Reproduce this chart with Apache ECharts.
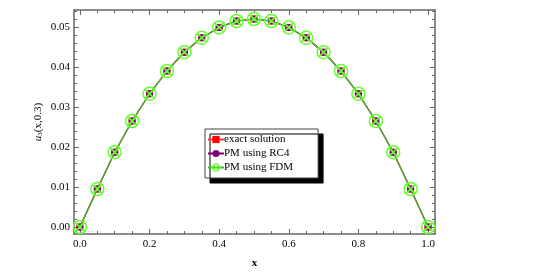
<!DOCTYPE html>
<html>
<head>
<meta charset="utf-8">
<script src="https://cdn.jsdelivr.net/npm/echarts@6.0.0/dist/echarts.min.js"></script>
<style>html,body{margin:0;padding:0;background:#fff}#c{width:541px;height:278px}</style>
</head>
<body>
<div id="c"></div>
<script>
var xs = [0,0.05,0.1,0.15,0.2,0.25,0.3,0.35,0.4,0.45,0.5,0.55,0.6,0.65,0.7,0.75,0.8,0.85,0.9,0.95,1.0];
var exactVals = [0,0.0095,0.0187,0.0265,0.0333,0.0390,0.0437,0.0473,0.0499,0.0515,0.0520,0.0515,0.0499,0.0473,0.0437,0.0390,0.0333,0.0265,0.0187,0.0095,0];
var rc4Vals   = [0,0.0095,0.0187,0.0265,0.0333,0.0390,0.0437,0.0473,0.0499,0.0515,0.0520,0.0515,0.0499,0.0473,0.0437,0.0390,0.0333,0.0265,0.0187,0.0095,0];
var fdmVals   = [0,0.0095,0.0187,0.0265,0.0333,0.0390,0.0437,0.0473,0.0499,0.0515,0.0520,0.0515,0.0499,0.0473,0.0437,0.0390,0.0333,0.0265,0.0187,0.0095,0];
var xTickLabels = [0,0.2,0.4,0.6,0.8,1.0];
var xMinorTicks = [0.05,0.1,0.15,0.25,0.3,0.35,0.45,0.5,0.55,0.65,0.7,0.75,0.85,0.9,0.95];
var yTickLabels = [0,0.01,0.02,0.03,0.04,0.05];
var yMinorTicks = [0.002,0.004,0.006,0.008,0.012,0.014,0.016,0.018,0.022,0.024,0.026,0.028,0.032,0.034,0.036,0.038,0.042,0.044,0.046,0.048,0.052,0.054];
var seriesNames = ['exact solution','PM using RC4','PM using FDM'];

function pairs(v){ return xs.map(function(x,i){ return [x, v[i]]; }); }

var axisCol = '#666';
var font = 'Liberation Serif';
var XMIN = -0.017, XMAX = 1.02, YMIN = -0.00175, YMAX = 0.05425;

function xAx(pos, vals, len, show){
  return {
    type:'value', position:pos, min:XMIN, max:XMAX,
    axisLine:{show:show, onZero:false, lineStyle:{color:axisCol, width:1.5}},
    axisTick:{show:true, inside:true, length:len, customValues:vals, lineStyle:{color:axisCol, width:1}},
    axisLabel:{show:false}, splitLine:{show:false}
  };
}
function yAx(pos, vals, len, show){
  return {
    type:'value', position:pos, min:YMIN, max:YMAX,
    axisLine:{show:show, onZero:false, lineStyle:{color:axisCol, width:1.5}},
    axisTick:{show:true, inside:true, length:len, customValues:vals, lineStyle:{color:axisCol, width:1}},
    axisLabel:{show:false}, splitLine:{show:false}
  };
}

var xMain = xAx('bottom', xTickLabels, 5, true);
xMain.axisLabel = {show:true, customValues:xTickLabels, margin:5, color:'#000', fontFamily:font, fontSize:11,
  formatter:function(v){ return v.toFixed(1); }};
xMain.name = 'x'; xMain.nameLocation = 'middle'; xMain.nameGap = 24;
xMain.nameTextStyle = {color:'#000', fontFamily:font, fontSize:11, fontWeight:'bold'};

var yMain = yAx('left', yTickLabels, 5, true);
yMain.axisLabel = {show:true, customValues:yTickLabels, margin:4, color:'#000', fontFamily:font, fontSize:11,
  formatter:function(v){ return v.toFixed(2); }};
yMain.name = '{i|u}{s|3}{n|(x,0.3)}'; yMain.nameLocation = 'middle'; yMain.nameGap = 30; yMain.nameRotate = 90;
yMain.nameMoveOverlap = false;
yMain.nameTextStyle = {color:'#000', fontFamily:font, fontSize:11,
  rich:{ i:{fontStyle:'italic', fontFamily:font, fontSize:11, color:'#000'},
         s:{fontFamily:font, fontSize:7, color:'#000', verticalAlign:'bottom', padding:[4,0,0,0]},
         n:{fontFamily:font, fontSize:11, color:'#000'} }};

var crossCircle = 'path://M10,0A10,10,0,1,1,10,20A10,10,0,1,1,10,0ZM2.93,2.93L17.07,17.07M17.07,2.93L2.93,17.07';

var option = {
  animation:false,
  backgroundColor:'#fff',
  grid:{left:74, right:106, top:10, bottom:44, containLabel:false},
  xAxis:[ xMain, xAx('bottom', xMinorTicks, 3, false), xAx('top', xTickLabels, 5, true), xAx('top', xMinorTicks, 3, false) ],
  yAxis:[ yMain, yAx('left', yMinorTicks, 3, false), yAx('right', yTickLabels, 5, true), yAx('right', yMinorTicks, 3, false) ],
  legend:{
    orient:'vertical', left:205, top:129,
    itemWidth:16, itemHeight:9, itemGap:3,
    padding:[5,25,5,2],
    backgroundColor:'#fff', borderColor:'#444', borderWidth:1,
    shadowColor:'#000', shadowBlur:0, shadowOffsetX:5, shadowOffsetY:5,
    textStyle:{color:'#000', fontFamily:font, fontSize:11, padding:[0,0,0,-5]},
    data:[
      {name:seriesNames[0]},
      {name:seriesNames[1]},
      {name:seriesNames[2], itemStyle:{color:'rgba(255,255,255,0)', borderColor:'#66ff33', borderWidth:1.2}}
    ]
  },
  series:[
    { name:seriesNames[0], type:'line', data:pairs(exactVals), symbol:'rect', symbolSize:7,
      lineStyle:{color:'#ff3333', width:1.2}, itemStyle:{color:'#ff0000'}, z:2 },
    { name:seriesNames[1], type:'line', data:pairs(rc4Vals), symbol:'circle', symbolSize:7,
      lineStyle:{color:'#800080', width:1.2}, itemStyle:{color:'#800080'}, z:3 },
    { name:seriesNames[2], type:'line', data:pairs(fdmVals), symbol:crossCircle, symbolSize:13,
      lineStyle:{color:'#44bb22', width:1.3},
      itemStyle:{color:'rgba(255,255,255,0)', borderColor:'#66ff33', borderWidth:1.5}, z:4 }
  ]
};
var chart = echarts.init(document.getElementById('c'), null, {renderer:'canvas'});
chart.setOption(option);
</script>
</body>
</html>
